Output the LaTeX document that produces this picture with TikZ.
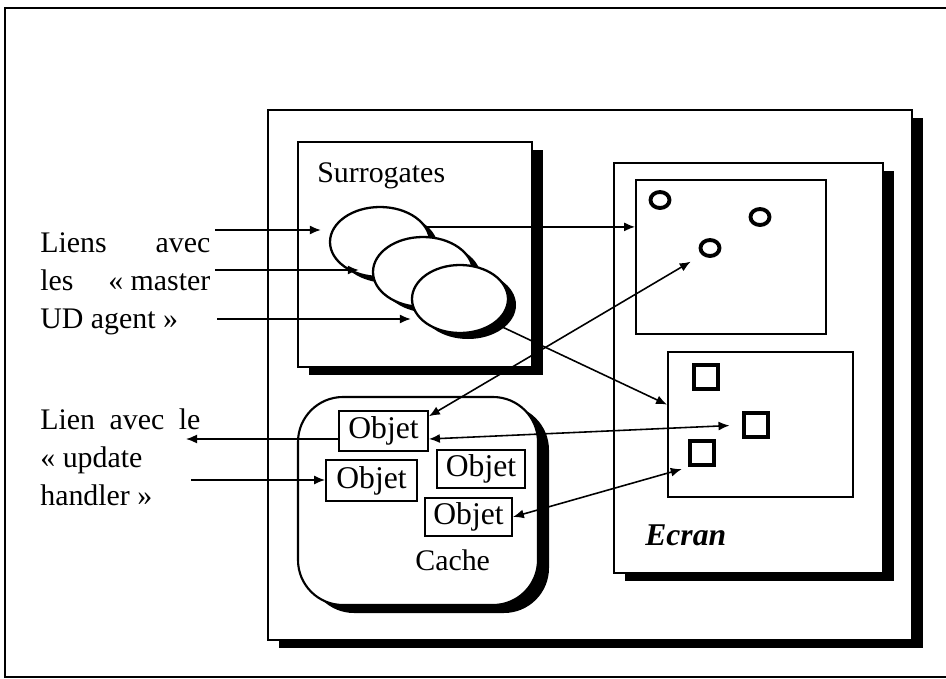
\documentclass[tikz,border=0pt]{standalone}
\usepackage{fontspec}
\setmainfont{Liberation Serif}
\usetikzlibrary{arrows.meta, calc, positioning, shapes.geometric, shadows}

\begin{document}
\begin{tikzpicture}[
	x=0.2mm, y=-0.2mm,
	every node/.style={font=\fontsize{17}{21.5}\selectfont},
	% NOTE: style names 'pixdot' and 'pixsq' avoid TikZ built-in 'mark'
	panel/.style={draw, fill=white, line width=1.2pt, inner sep=0pt,
		drop shadow={shadow xshift=0.22cm, shadow yshift=-0.16cm, fill=black, opacity=1}},
	screenbox/.style={draw, fill=white, line width=1pt, inner sep=0pt},
	objbox/.style={draw, fill=white, line width=1pt, inner sep=0pt,
		font=\fontsize{18}{22}\selectfont},
	lbl/.style={anchor=base west, inner sep=0pt},
	blob/.style={ellipse, draw, fill=white, line width=1.3pt,
		minimum width=2cm, minimum height=1.4cm,
		drop shadow={shadow xshift=0.16cm, shadow yshift=-0.12cm, fill=black, opacity=1}},
	pixdot/.style={ellipse, draw, line width=2.2pt, inner sep=0pt,
		minimum width=0.38cm, minimum height=0.32cm},
	pixsq/.style={draw, line width=2.8pt, minimum size=0.48cm, inner sep=0pt},
	arr/.style={-{Latex[length=2.2mm, width=1.8mm]}, line width=0.9pt},
	biarr/.style={{Latex[length=2.2mm, width=1.8mm]}-{Latex[length=2.2mm, width=1.8mm]},
		line width=0.9pt}
	]
	\useasboundingbox (0,0) rectangle (946,679);
	\draw[line width=1.4pt] (946,8) -- (5,8) -- (5,677) -- (946,677);
	
	\node[panel, minimum width=12.88cm, minimum height=10.6cm] (sys) at (590,375) {};
	\node[panel, minimum width=4.68cm, minimum height=4.5cm] (surr) at (415,254.5) {};
	\node[panel, minimum width=5.38cm, minimum height=8.2cm] (ecran) at (748.5,368) {};
	\node[panel, rounded corners=0.9cm, minimum width=4.8cm, minimum height=4.16cm]
	(cache) at (418,501) {};
	
	\node[lbl] (surrlbl) at (317,182) {Surrogates};
	\node[lbl] (cachelbl) at (415,570) {Cache};
	\node[lbl, font=\fontsize{18}{22}\selectfont\bfseries\itshape]
	(ecranlbl) at (645,545) {Ecran};
	
	\node[screenbox, minimum width=3.8cm, minimum height=3.08cm] (upper) at (731,257) {};
	\node[screenbox, minimum width=3.7cm, minimum height=2.9cm] (lower) at (760.5,424.5) {};
	\node[pixdot] (c1) at (660,200) {};
	\node[pixdot] (c2) at (760,217) {};
	\node[pixdot] (c3) at (710,248) {};
	\node[pixsq] (s1) at (706,377) {};
	\node[pixsq] (s2) at (756,425) {};
	\node[pixsq] (s3) at (702,453) {};
	
	\node[blob] (e1) at (380,242) {};
	\node[blob] (e2) at (423,272) {};
	\node[blob, minimum width=1.92cm, minimum height=1.36cm] (e3) at (460,299) {};
	
	\node[objbox, minimum width=1.78cm, minimum height=0.8cm] (objA) at (383.5,431) {Objet};
	\node[objbox, minimum width=1.82cm, minimum height=0.82cm] (objB) at (371.5,480.5) {Objet};
	\node[objbox, minimum width=1.76cm, minimum height=0.76cm] (objC) at (481,469) {Objet};
	\node[objbox, minimum width=1.74cm, minimum height=0.76cm] (objD) at (468.5,517) {Objet};
	
	\node[lbl, align=left] (masterlbl) at (40,328)
	{\makebox[3.4cm][s]{Liens\hfill avec}\\\makebox[3.4cm][s]{les\hfill « master}\\UD agent »};
	\node[lbl, align=left] (handlerlbl) at (40,505)
	{\makebox[3.2cm][s]{Lien avec le}\\« update\\handler »};
	
	\coordinate (m1) at (215,230);
	\coordinate (m2) at (215,270);
	\coordinate (m3) at (217,319);
	\coordinate (uh1) at (186,439);
	\coordinate (uh2) at (191,480);
	
	\draw[arr, shorten >=0.16cm] (m1) -- (m1 -| e1.west);
	\draw[arr, shorten >=0.26cm] (m2) -- (m2 -| e2.west);
	\draw[arr] (m3) -- (m3 -| e3.west);
	\draw[arr] (e1.18) -- (e1.18 -| upper.west);
	\draw[arr] (e3.-35) -- (lower.168);
	\draw[biarr, shorten >=0.26cm] (objA.18) -- (c3.south west);
	\draw[biarr, shorten >=0.24cm] (objA.-10) -- (s2.west);
	\draw[biarr, shorten >=0.12cm] (objD.east) -- (s3.south west);
	\draw[arr] (objA.190) -- (uh1);
	\draw[arr] (uh2) -- (uh2 -| objB.west);
\end{tikzpicture}
\end{document}
